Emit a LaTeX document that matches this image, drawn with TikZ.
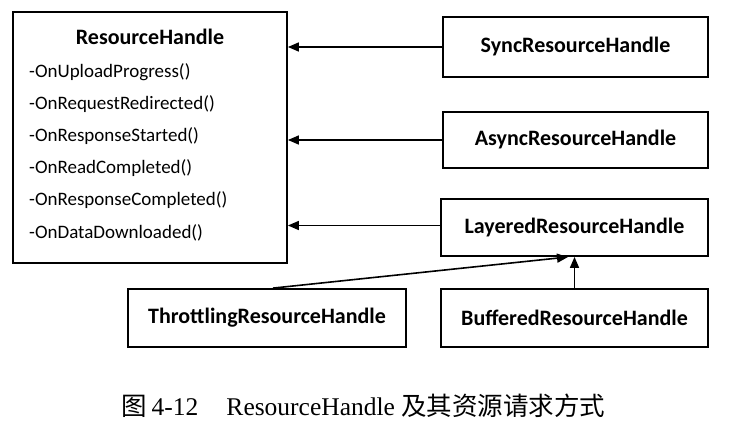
\documentclass[tikz,border=0pt]{standalone}
\usepackage{fontspec}
\setmainfont{Carlito}
\newfontfamily\capfont{Liberation Serif}
\newfontfamily\cjk{Noto Sans CJK SC}
\usetikzlibrary{arrows.meta}
\begin{document}
\begin{tikzpicture}[x=1pt,y=-1pt,
  cls/.style={draw,line width=1.8pt,inner sep=0pt,font=\fontsize{22}{26}\selectfont\bfseries},
  meth/.style={anchor=west,inner sep=0pt,font=\fontsize{19}{23}\selectfont},
  inh/.style={line width=1.6pt,-{Triangle[length=11pt,width=9pt]}}]
\useasboundingbox (0,0) rectangle (730,423);
% ResourceHandle
\node[cls,minimum width=274pt,minimum height=251pt] (rh) at (150,137.5) {};
\node[font=\fontsize{22}{26}\selectfont\bfseries,inner sep=0pt] (rht) at (150,37) {ResourceHandle};
\node[meth] (m1) at (29,72) {-OnUploadProgress()};
\node[meth] (m2) at (29,104) {-OnRequestRedirected()};
\node[meth] (m3) at (29,136) {-OnResponseStarted()};
\node[meth] (m4) at (29,168) {-OnReadCompleted()};
\node[meth] (m5) at (29,200) {-OnResponseCompleted()};
\node[meth] (m6) at (29,233) {-OnDataDownloaded()};
% subclasses
\node[cls,minimum width=265pt,minimum height=60pt] (sync) at (575.5,47) {SyncResourceHandle};
\node[cls,minimum width=265pt,minimum height=56pt] (async) at (575.5,140) {AsyncResourceHandle};
\node[cls,minimum width=267pt,minimum height=57pt] (lay) at (574.5,227.5) {LayeredResourceHandle};
\node[cls,minimum width=278pt,minimum height=58pt] (thr) at (267,318) {ThrottlingResourceHandle};
\node[cls,minimum width=267pt,minimum height=58pt] (buf) at (574.5,318) {BufferedResourceHandle};
% connectors
\draw[inh] (sync.west) -- (sync.west -| rh.east);
\draw[inh] (async.west) -- (async.west -| rh.east);
\draw[inh] ([yshift=2pt]lay.west) -- ([yshift=2pt]lay.west -| rh.east);
\coordinate (tt) at (568,257);
\draw[inh] ([xshift=6pt]thr.north) -- (tt);
\draw[inh] (buf.north) -- (buf.north |- lay.south);
% caption
\node[font=\fontsize{25.5}{30}\selectfont\capfont,inner sep=0pt,anchor=base west] (cap) at (121,415) {{\cjk 图}\hspace{5pt}4-12\hspace{1.1em}ResourceHandle {\cjk 及其资源请求方式}};
\end{tikzpicture}
\end{document}
